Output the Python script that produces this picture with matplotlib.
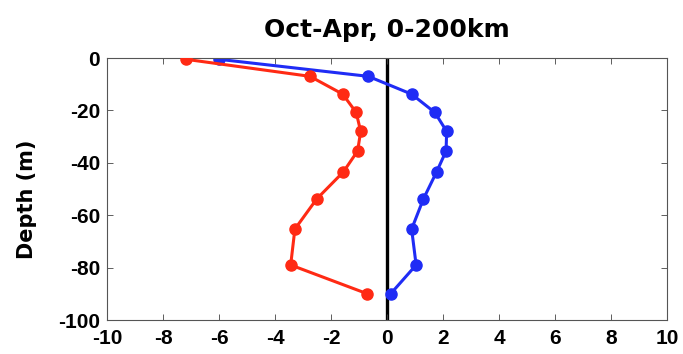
import matplotlib
matplotlib.use("Agg")
import matplotlib.pyplot as plt

# depth levels (m) and the two profiles
depth = [-0.5, -7.0, -13.8, -20.8, -28.0, -35.5, -43.5, -53.8, -65.3, -79.0, -90.0]
blue_vals = [-6.0, -0.67, 0.88, 1.71, 2.13, 2.11, 1.77, 1.30, 0.88, 1.04, 0.13]
red_vals = [-7.18, -2.75, -1.58, -1.10, -0.94, -1.05, -1.56, -2.51, -3.29, -3.44, -0.70]

xticks = [-10, -8, -6, -4, -2, 0, 2, 4, 6, 8, 10]
yticks = [0, -20, -40, -60, -80, -100]

plt.rcParams['font.family'] = ['Liberation Sans', 'DejaVu Sans']
plt.rcParams['font.weight'] = 'bold'
plt.rcParams['axes.unicode_minus'] = False

fig = plt.figure(figsize=(6.83, 3.54), dpi=100)
ax = fig.add_axes([107 / 683, 1 - 320 / 354, 560 / 683, 262 / 354])

ax.axvline(0, color='black', lw=2.4, zorder=1)
ax.plot(blue_vals, depth, '-o', color='#1f2cf5', lw=2.2, ms=8, zorder=2)
ax.plot(red_vals, depth, '-o', color='#ff2a14', lw=2.2, ms=8, zorder=3)

ax.set_xlim(-10, 10)
ax.set_ylim(-100, 0)
ax.set_xticks(xticks)
ax.set_yticks(yticks)
ax.tick_params(direction='in', length=4, width=0.6, top=True, right=True,
               labelsize=15, color='#444444')
ax.tick_params(axis='x', pad=6.5)
ax.tick_params(axis='y', pad=5)
for lab in ax.get_xticklabels() + ax.get_yticklabels():
    lab.set_fontweight('bold')
for s in ax.spines.values():
    s.set_linewidth(0.8)
    s.set_color('#555555')

ax.set_ylabel('Depth (m)', fontsize=15, fontweight='bold', family='DejaVu Sans')
ax.yaxis.set_label_coords(-0.1255, 0.462)
ax.set_title('Oct-Apr, 0-200km', fontsize=18, fontweight='bold',
             family='DejaVu Sans', pad=15)

fig.savefig('out.png', dpi=100)
